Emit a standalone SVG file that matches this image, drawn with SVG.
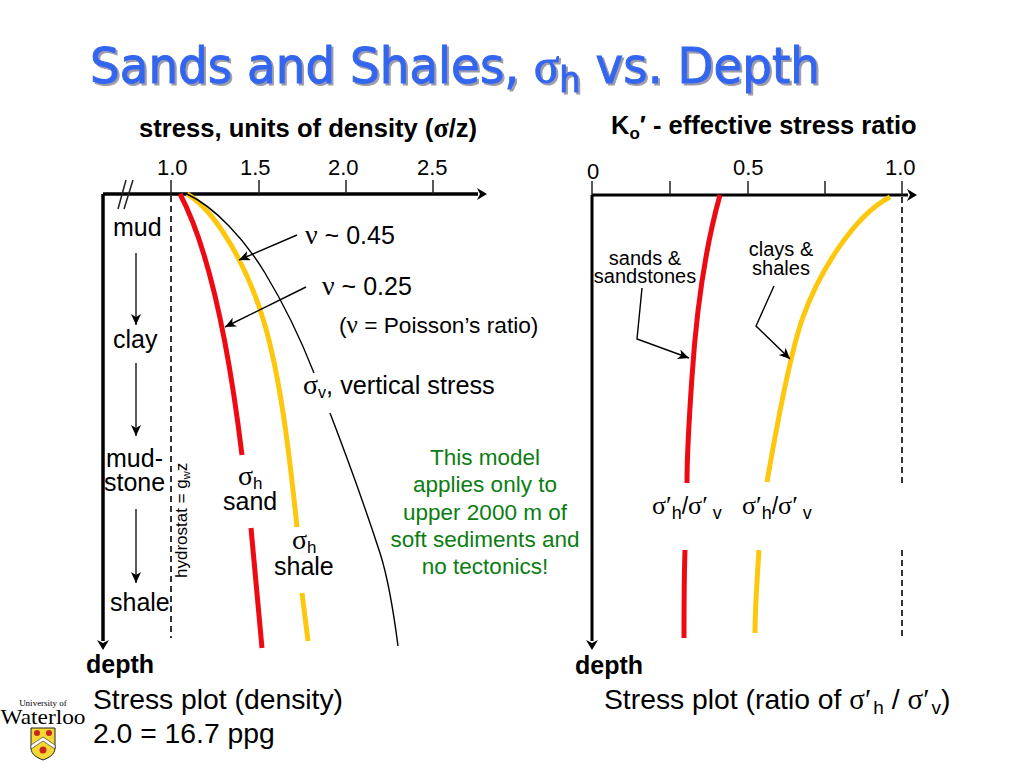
<svg xmlns="http://www.w3.org/2000/svg" width="1024" height="768" viewBox="0 0 1024 768">
<style>
text{font-family:"Liberation Sans",Arial,sans-serif;fill:#000}
.g{font-family:"Liberation Serif","DejaVu Serif",serif}
.b{font-weight:bold}
.t{font-family:"DejaVu Sans",sans-serif;font-size:50px;fill:#3366ee;stroke:#3366ee;stroke-width:1;filter:url(#sh)}
.n{fill:#0b7d12}
.ax{fill:none;stroke:#000;stroke-width:3.5}
.tk{fill:none;stroke:#222;stroke-width:1.5}
.th{fill:none;stroke:#000;stroke-width:1.4}
.red{fill:none;stroke:#ee0a12;stroke-width:5}
.yel{fill:none;stroke:#fdc70e;stroke-width:5}
.da{fill:none;stroke:#333;stroke-width:2;stroke-dasharray:6 4}
</style>
<defs>
<filter id="sh" x="-5%" y="-20%" width="110%" height="140%"><feDropShadow dx="2" dy="2" stdDeviation="0.6" flood-color="#9c9ca8"/></filter>
<marker id="a" markerUnits="userSpaceOnUse" markerWidth="12" markerHeight="12" refX="11" refY="5" orient="auto"><path d="M0 0L11 5L0 10L3 5Z" fill="#000"/></marker>
<marker id="b" markerUnits="userSpaceOnUse" markerWidth="12" markerHeight="14" refX="1" refY="6" orient="auto"><path d="M0 0L10 6L0 12L3 6Z" fill="#000"/></marker>
</defs>
<g id="title">
<text class="t" x="90" y="83" textLength="730" lengthAdjust="spacingAndGlyphs">Sands and Shales, <tspan class="g">σ</tspan><tspan font-size="36" dy="9">h</tspan><tspan dy="-9"> vs. Depth</tspan></text>
</g>
<g id="connectors">
<path class="ax" d="M103 194V641" marker-end="url(#b)"/>
<path class="ax" d="M103 194H478" marker-end="url(#b)"/>
<path class="ax" style="stroke-width:3" d="M592 195V641" marker-end="url(#b)"/>
<path class="ax" style="stroke-width:3" d="M592 195H908" marker-end="url(#b)"/>
<path class="tk" d="M171 180V194M259 180V194M346 180V194M433 180V194M118 209L126 180M124 209L133 180"/>
<path class="tk" d="M670 181V195M748 181V195M825 181V195M902 181V195M592 181V195"/>
<path class="da" d="M171 196V638M902 197V483M902 550V636"/>
<path class="red" d="M180 194C207 245 228 340 242 455"/>
<path class="red" d="M251 528L262 648"/>
<path class="yel" d="M187 194C215 210 247 265 264 322C281 379 290 460 297 527"/>
<path class="yel" d="M302 593L308 641"/>
<path class="th" d="M187 194C215 207 245 240 265 273C285 306 303 345 314 373"/>
<path class="th" d="M330 413C345 452 366 510 380 553C388 578 394 615 398 646"/>
<path class="red" d="M720 195C706 245 697 300 692 377C689 420 687 455 687 483"/>
<path class="red" d="M685 550C684 580 684 610 684 638"/>
<path class="yel" d="M890 197C855 215 820 270 803 317C790 353 776 430 767 482"/>
<path class="yel" d="M759 550C757 580 755 610 755 633"/>
<path class="th" d="M297 235L239 260" marker-end="url(#a)"/>
<path class="th" d="M306 287L225 327" marker-end="url(#a)"/>
<path class="tk" d="M136 253V325" marker-end="url(#a)"/>
<path class="tk" d="M136 363V436" marker-end="url(#a)"/>
<path class="tk" d="M136 509V583" marker-end="url(#a)"/>
<path class="th" d="M642 288L637 339L689 358" marker-end="url(#a)"/>
<path class="th" d="M774 286L756 326L790 359" marker-end="url(#a)"/>
</g>
<g id="left-labels">
<text class="b" x="139" y="137" font-size="25.6">stress, units of density (<tspan class="g" font-size="28">σ</tspan>/z)</text>
<text x="157" y="175" font-size="22">1.0</text><text x="240" y="175" font-size="22">1.5</text><text x="328" y="175" font-size="22">2.0</text><text x="417" y="175" font-size="22">2.5</text>
<text x="113" y="236" font-size="25">mud</text>
<text x="113" y="348" font-size="25">clay</text>
<text x="106" y="467" font-size="25">mud-</text>
<text x="104" y="491" font-size="25">stone</text>
<text x="110" y="611" font-size="25">shale</text>
<text x="305" y="244" font-size="25"><tspan class="g" font-size="28">ν</tspan> ~ 0.45</text>
<text x="322" y="295" font-size="25"><tspan class="g" font-size="28">ν</tspan> ~ 0.25</text>
<text x="339" y="333" font-size="22.7">(<tspan class="g" font-size="25">ν</tspan> = Poisson’s ratio)</text>
<text x="303" y="394" font-size="25.3"><tspan class="g" font-size="28">σ</tspan><tspan font-size="16" dy="4">v</tspan><tspan dy="-4">, vertical stress</tspan></text>
<text x="238" y="485" font-size="25"><tspan class="g" font-size="28">σ</tspan><tspan font-size="17" dy="4">h</tspan></text>
<text x="223" y="510" font-size="25">sand</text>
<text x="292" y="549" font-size="25"><tspan class="g" font-size="28">σ</tspan><tspan font-size="17" dy="4">h</tspan></text>
<text x="274" y="575" font-size="25">shale</text>
<text transform="translate(187 578) rotate(-90)" font-size="17">hydrostat = g<tspan font-size="11" dy="3">w</tspan><tspan dy="-3">z</tspan></text>
<text class="b" x="86" y="673" font-size="25">depth</text>
<text x="93" y="709" font-size="28.3">Stress plot (density)</text>
<text x="93" y="743" font-size="28.3">2.0 = 16.7 ppg</text>
</g>
<g id="note" font-size="22.5" text-anchor="middle">
<text class="n" x="485" y="465">This model</text>
<text class="n" x="485" y="492">applies only to</text>
<text class="n" x="485" y="520">upper 2000 m of</text>
<text class="n" x="485" y="547">soft sediments and</text>
<text class="n" x="485" y="574">no tectonics!</text>
</g>
<g id="right-labels" font-size="22">
<text class="b" x="611" y="134" font-size="25.5">K<tspan font-size="17" dy="5">o</tspan><tspan dy="-5">′ - effective stress ratio</tspan></text>
<text x="587" y="179">0</text><text x="733" y="175">0.5</text><text x="885" y="175">1.0</text>
<text x="645" y="265" font-size="20" text-anchor="middle">sands &amp;</text>
<text x="645" y="283" font-size="20" text-anchor="middle">sandstones</text>
<text x="781" y="256" font-size="20" text-anchor="middle">clays &amp;</text>
<text x="781" y="275" font-size="20" text-anchor="middle">shales</text>
<text x="652" y="514" font-size="23"><tspan class="g" font-size="26">σ′</tspan><tspan font-size="18" dy="5">h</tspan><tspan dy="-5">/</tspan><tspan class="g" font-size="26">σ′</tspan><tspan font-size="18" dy="5"> v</tspan></text>
<text x="742" y="514" font-size="23"><tspan class="g" font-size="26">σ′</tspan><tspan font-size="18" dy="5">h</tspan><tspan dy="-5">/</tspan><tspan class="g" font-size="26">σ′</tspan><tspan font-size="18" dy="5"> v</tspan></text>
<text class="b" x="575" y="674" font-size="25">depth</text>
<text x="604" y="709" font-size="28.3">Stress plot (ratio of <tspan class="g" font-size="29">σ′</tspan><tspan font-size="19" dy="5" dx="2">h</tspan><tspan dy="-5"> / </tspan><tspan class="g" font-size="29">σ′</tspan><tspan font-size="19" dy="5" dx="2">v</tspan><tspan dy="-5">)</tspan></text>
</g>
<g id="logo">
<text x="43" y="706" font-size="9" text-anchor="middle" style="font-family:'Liberation Serif',serif">University of</text>
<text x="43" y="724" font-size="22" text-anchor="middle" style="font-family:'Liberation Serif',serif" textLength="85" lengthAdjust="spacingAndGlyphs">Waterloo</text>
<path d="M31 728H55V748C55 755 48 758 43 760C38 758 31 755 31 748Z" fill="#f6d835" stroke="#222" stroke-width="1"/>
<path d="M31 745L43 737L55 745V749L43 741L31 749Z" fill="#fff" stroke="#222" stroke-width=".6"/>
<circle cx="37" cy="733" r="3" fill="#c8281e"/><circle cx="49" cy="733" r="3" fill="#c8281e"/><circle cx="43" cy="750" r="3.5" fill="#c8281e"/>
</g>
</svg>
